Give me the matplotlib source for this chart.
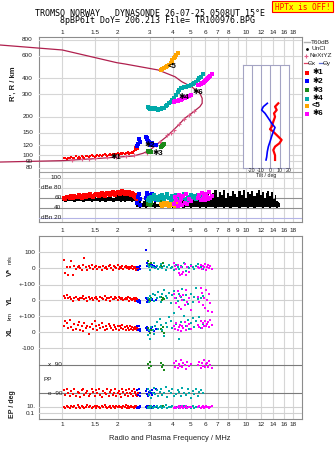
import matplotlib
matplotlib.use('Agg')
import matplotlib.pyplot as plt
import matplotlib.transforms as mtransforms
from matplotlib.lines import Line2D
from matplotlib.patches import Rectangle
from matplotlib.ticker import NullLocator

plt.rcParams['font.family'] = ['Liberation Sans', 'DejaVu Sans']

# ---------------- data ----------------
# echo group *1 (red): frequency MHz, virtual height km, amplitude dB, V* m/s, YL km, XL km, PP deg, EP deg
red_f = [1.02, 1.04, 1.06, 1.08, 1.10, 1.12, 1.14, 1.16, 1.18, 1.21,
         1.23, 1.25, 1.28, 1.30, 1.32, 1.35, 1.37, 1.40, 1.42, 1.45,
         1.47, 1.50, 1.53, 1.55, 1.58, 1.61, 1.64, 1.67, 1.70, 1.73,
         1.76, 1.79, 1.82, 1.85, 1.88, 1.91, 1.94, 1.97, 2.00, 2.03,
         2.06, 2.09, 2.12, 2.15, 2.18, 2.21, 2.24, 2.27, 2.30, 2.33,
         2.36, 2.39, 2.42, 2.45, 2.48, 2.50, 2.52, 2.54, 2.56, 2.58]
red_h = [95, 96, 94, 96, 95, 97, 95, 96, 98, 96,
         97, 95, 98, 97, 96, 98, 99, 97, 98, 100,
         98, 97, 99, 100, 98, 101, 99, 100, 102, 100,
         99, 101, 103, 100, 102, 101, 103, 102, 104, 101,
         103, 105, 102, 104, 103, 105, 104, 106, 103, 105,
         104, 106, 105, 108, 112, 116, 110, 114, 118, 111]
red_db = [60, 58, 62, 61, 59, 63, 60, 64, 62, 61,
          65, 63, 60, 64, 66, 62, 65, 63, 67, 64,
          62, 66, 68, 65, 63, 67, 69, 66, 64, 68,
          70, 67, 65, 69, 71, 68, 66, 70, 72, 69,
          67, 71, 73, 70, 68, 72, 70, 67, 71, 69,
          66, 70, 68, 64, 66, 62, 60, 63, 58, 61]
red_vs = [52, -30, 10, -42, 5, 48, -40, 12, -5, 8,
          15, 2, -8, 20, 62, 5, -10, 12, 0, 18,
          -6, 8, 14, -3, 10, 6, -12, 16, 4, 9,
          -4, 12, 20, 2, -8, 14, 6, 0, 18, -5,
          10, 3, 12, -2, 8, 15, 0, 6, -6, 10,
          4, 12, -3, 8, 2, 5, -8, 10, 0, 4]
red_yl = [22, 15, 28, 10, 18, 5, -5, 12, 20, 8,
          -2, 15, 10, 25, 5, 12, -8, 18, 6, 14,
          0, 10, 20, 8, -4, 16, 12, 6, 22, 2,
          10, 14, -6, 18, 8, 4, 16, 12, 0, 20,
          10, 6, 14, -2, 8, 12, 4, 16, -4, 10,
          6, 2, 8, 12, -6, 4, 10, 0, 6, 2]
red_xl = [40, 70, 55, 25, 75, 30, 10, 50, 20, 45,
          60, 15, 35, 5, 55, 25, 40, -10, 30, 50,
          20, 65, 35, 10, 45, 25, 55, 30, 15, 40,
          20, 50, 35, 25, 10, 45, 30, 20, 40, 15,
          35, 25, 45, 20, 30, 10, 40, 25, 15, 35,
          20, 30, 12, 25, 18, 30, 22, 15, 28, 20]
red_pp = [-70, -100, -60, -85, -110, -75, -95, -65, -105, -80,
          -90, -115, -70, -60, -100, -85, -75, -110, -95, -65,
          -80, -105, -70, -90, -60, -100, -115, -75, -85, -95,
          -65, -110, -80, -70, -100, -90, -60, -105, -85, -75,
          -95, -115, -65, -80, -100, -70, -90, -110, -60, -85,
          -95, -75, -105, -65, -90, -80, -100, -70, -110, -85]
red_ep = [10, 5, 20, 8, 3, 15, 6, 12, 4, 25,
          8, 5, 18, 10, 3, 7, 30, 6, 12, 4,
          9, 15, 5, 20, 8, 3, 12, 6, 25, 10,
          4, 8, 15, 5, 18, 7, 3, 12, 9, 20,
          6, 10, 4, 15, 8, 25, 5, 12, 3, 9,
          18, 6, 10, 4, 14, 8, 20, 5, 11, 7]

# echo group *2 (blue)
blue_f = [2.56, 2.58, 2.61, 2.63, 2.66, 2.84, 2.88, 2.90, 2.94, 2.96, 3.02, 3.06, 3.09, 3.15, 3.22]
blue_h = [118, 122, 133, 128, 127, 140, 136, 133, 130, 128, 120, 125, 124, 121, 120]
blue_db = [50, 62, 68, 46, 58, 60, 66, 69, 63, 57, 65, 68, 61, 58, 55]
blue_vs = [8, -10, 5, -5, 12, 110, 15, 30, 20, 10, 25, 5, 18, 12, 8]
blue_yl = [-5, -15, 2, -20, -8, 10, -10, 5, -5, -12, 8, -2, 4, -8, 0]
blue_xl = [35, 10, 40, 20, 5, 25, 10, 30, 15, 5, 20, 28, 12, 8, 18]
blue_pp = [-70, -100, -60, -110, -85, -75, -95, -60, -105, -80, -90, -70, -100, -85, -65]
blue_ep = [5, 10, 3, 20, 8, 6, 12, 4, 15, 8, 10, 5, 7, 12, 9]

# echo group *3 (green)
green_f = [2.92, 2.96, 3.00, 3.05, 3.43, 3.47, 3.52, 3.56]
green_h = [108, 107, 108, 107, 116, 118, 120, 123]
green_db = [48, 52, 45, 50, 47, 53, 49, 46]
green_vs = [45, 25, 15, 35, 20, 10, 30, 15]
green_yl = [15, 5, -8, 10, 20, 0, 12, 5]
green_xl = [25, 10, -5, 15, 20, 5, 28, -8]
green_pp = [95, 70, 110, 85, 100, 75, 90, 60]
green_ep = [10, 5, 20, 8, 12, 6, 15, 9]

# echo group *4 (teal)
teal_f = [2.92, 2.96, 3.00, 3.05, 3.10, 3.15, 3.20, 3.26, 3.32, 3.38,
          3.44, 3.50, 3.57, 3.64, 3.72, 3.80, 3.89, 3.97, 4.05, 4.14,
          4.23, 4.32, 4.41, 4.50, 4.60, 4.69, 4.80, 4.90, 5.00, 5.12,
          5.23, 5.33, 5.45, 5.55, 5.67, 5.79]
teal_h = [238, 234, 232, 236, 233, 230, 233, 229, 226, 228,
          231, 233, 236, 241, 247, 254, 262, 270, 279, 296,
          314, 324, 334, 338, 341, 343, 346, 350, 354, 362,
          370, 376, 388, 400, 412, 430]
teal_db = [56, 60, 54, 62, 58, 65, 57, 61, 55, 63,
           59, 66, 57, 62, 68, 60, 55, 64, 58, 66,
           61, 56, 63, 59, 67, 57, 62, 55, 65, 60,
           64, 58, 66, 61, 56, 63]
teal_vs = [20, 5, -10, 15, 8, 30, 0, 12, -5, 10,
           25, 3, 15, -8, 6, 18, 2, 10, -12, 22,
           8, -4, 14, 5, 30, -15, 10, 0, 18, 6,
           -6, 12, 25, 4, 10, -2]
teal_yl = [10, -15, 25, 5, 40, -5, 30, 15, 50, 20,
           -10, 35, 60, 25, 10, 45, -20, 30, 55, 15,
           -5, 40, 20, 65, 0, 30, -25, 10, 35, -15,
           20, 73, 5, -10, 15, 25]
teal_xl = [-20, 10, -40, 30, 15, -10, 40, 60, 20, 80,
           45, 10, -25, 55, 30, 90, 70, 25, 117, 50,
           15, -45, 60, 35, 100, 40, 75, 20, 55, 85,
           30, 65, 45, 95, 25, 50]
teal_pp = [-60, -100, -75, -120, -85, -55, -95, -70, -110, -80,
           -65, -100, -90, -50, -115, -75, -85, -60, -105, -95,
           -70, -80, -110, -55, -90, -100, -65, -85, -120, -75,
           -95, -60, -105, -80, -70, -90]
teal_ep = [3, 8, 5, 15, 4, 10, 6, 20, 3, 8,
           12, 5, 7, 30, 4, 9, 6, 15, 5, 8,
           10, 4, 12, 6, 20, 3, 7, 9, 5, 15,
           4, 8, 6, 11, 5, 7]

# echo group <5 (orange)
orange_f = [3.43, 3.50, 3.57, 3.65, 3.73, 3.81, 3.89, 3.93, 3.97, 4.03, 4.10, 4.16, 4.23]
orange_h = [464, 470, 478, 488, 499, 510, 523, 538, 555, 572, 589, 606, 626]
orange_db = [48, 44, 52, 46, 50, 43, 47, 51, 45, 49, 44, 50, 46]

# echo group *6 (magenta)
mag_f = [4.05, 4.10, 4.15, 4.23, 4.30, 4.36, 4.41, 4.48, 4.55, 4.62,
         4.70, 4.79, 4.88, 5.00,
         5.50, 5.57, 5.65, 5.73, 5.79, 5.87, 5.95, 6.03, 6.12, 6.20, 6.28, 6.38, 6.50]
mag_h = [262, 264, 265, 266, 268, 270, 271, 274, 278, 280,
         283, 287, 291, 296,
         354, 357, 361, 365, 369, 374, 380, 388, 395, 402, 411, 420, 432]
mag_db = [48, 62, 55, 44, 66, 52, 58, 45, 63, 50,
          68, 47, 57, 53,
          60, 66, 56, 70, 58, 64, 55, 68, 61, 57, 71, 59, 63]
mag_vs = [30, 15, -5, 20, -30, -40, 10, -35, -20, 25,
          -42, 5, -25, 15,
          10, 0, 20, -5, 15, 8, 25, -10, 5, 18, 0, 12, -6]
mag_yl = [40, 10, -20, 55, -40, 25, -55, 0, 30, -30,
          60, -10, 15, -60,
          20, -15, 73, 45, -30, 10, -50, 60, 0, -70, 35, -20, -73]
mag_xl = [40, 20, 55, 10, 30, 45, 5, 35, 25, 60,
          15, 40, 50, 20,
          45, 30, 65, 25, 55, 40, 70, 35, 50, 60, 30, 75, 45]
mag_pp = [100, 80, 115, 70, 95, 85, 120, 75, 105, 90,
          65, 110, 85, 95,
          90, 110, 70, 100, 85, 120, 75, 95, 105, 80, 115, 90, 70]
mag_ep = [5, 10, 3, 8, 15, 4, 6, 12, 5, 9,
          20, 4, 7, 10,
          6, 12, 4, 9, 15, 5, 8, 20, 6, 10, 4, 7, 12]

# unclassified / noise amplitude (black)
black_f = [1.00, 1.04, 1.08, 1.12, 1.16, 1.20, 1.25, 1.30, 1.35, 1.40, 1.45, 1.50,
           1.55, 1.60, 1.66, 1.72, 1.78, 1.84, 1.90, 1.96, 2.02,
           2.08, 2.14, 2.20, 2.26, 2.32, 2.38, 2.44, 2.50,
           2.55, 2.60, 2.65, 2.70, 2.78, 2.86, 2.94, 3.02,
           3.10, 3.20, 3.30, 3.40, 3.50, 3.62, 3.74, 3.86, 4.00,
           4.14, 4.28, 4.42, 4.56, 4.70, 4.85, 5.00,
           5.15, 5.30, 5.45, 5.60, 5.75, 5.90, 6.05, 6.20, 6.40, 6.60,
           6.80, 7.00, 7.20, 7.40, 7.60, 7.80, 8.00, 8.20, 8.45, 8.70,
           8.95, 9.20, 9.45, 9.70, 9.95, 10.2, 10.5, 10.8, 11.1, 11.4,
           11.7, 12.0, 12.3, 12.6, 12.9, 13.2, 13.5, 13.8, 14.1, 14.4,
           14.7, 15.0, 15.3]
black_hi = [58, 57, 59, 58, 60, 57, 59, 61, 58, 60, 59, 62,
            60, 63, 61, 59, 62, 64, 60, 63, 65,
            70, 74, 66, 72, 76, 68, 62, 58,
            55, 52, 58, 50, 54, 57, 52, 56,
            50, 54, 48, 52, 47, 55, 50, 46, 52,
            48, 53, 50, 56, 52, 58, 62,
            66, 58, 70, 62, 74, 60, 68, 72, 64, 70,
            76, 62, 72, 66, 75, 60, 70, 64, 74, 68,
            62, 73, 66, 75, 60, 71, 67, 74, 63, 70,
            76, 65, 72, 60, 69, 74, 64, 71, 58, 66,
            54, 52, 50]
black_lo = [53, 52, 54, 53, 52, 54, 53, 52, 53, 54, 52, 53,
            54, 52, 53, 52, 54, 53, 52, 53, 54,
            52, 53, 52, 53, 54, 52, 53, 52,
            42, 41, 40, 41, 42, 40, 41, 42,
            41, 40, 41, 42, 40, 41, 42, 41, 40,
            41, 42, 41, 40, 41, 42, 40,
            41, 42, 41, 40, 41, 42, 40, 41, 42, 41,
            40, 41, 42, 41, 40, 41, 42, 40, 41, 42,
            41, 40, 41, 42, 41, 40, 41, 42, 40, 41,
            42, 41, 40, 41, 42, 41, 40, 41, 42, 41,
            40, 41, 42]

# N(h) profile and NeXtYZ points
prof_f = [0.46, 1.0, 1.98, 2.19, 3.32, 4.10, 4.46, 5.05, 5.60, 5.76, 5.76, 5.60,
          5.05, 4.64, 4.19, 3.69, 3.32, 3.00, 2.75, 2.43, 1.60, 1.0, 0.46]
prof_h = [727, 665, 529, 517, 464, 411, 376, 343, 305, 279, 255, 240,
          213, 195, 167, 140, 124, 110, 103.7, 98.7, 94.7, 90.8, 88.6]
nexyz_f = [1.13, 1.28, 1.39, 1.51, 1.75, 1.95, 2.21, 2.45, 2.90, 3.25,
           3.40, 3.73, 3.89, 4.05, 4.32, 4.59, 4.89, 5.21]
nexyz_h = [91.9, 93.6, 94.1, 94.7, 96.5, 97.5, 98.7, 100, 105, 120,
           128, 143, 150, 159, 175, 192, 206, 221]

# tilt profiles (inset)
thx_h = [255, 240, 226, 213, 200, 183, 167, 160, 153, 144, 132, 124, 117, 110, 100, 92]
thx_deg = [8.6, 5.1, 6.9, 4.0, 5.1, 3.2, 1.5, -0.3, 3.2, 6.9, 12.2, 9.7, 5.1, 3.2, 5.1, 5.1]
thy_h = [255, 240, 226, 213, 195, 178, 165, 153, 141, 128, 117, 107, 97, 92]
thy_deg = [-3.2, -7.5, -9.3, -5.7, -2.1, 1.5, 5.1, 3.2, 1.5, -0.3, -2.1, -3.2, -3.9, -4.6]

# echo labels
lab_txt = ['\u27311', '\u27312', '\u27313', '\u27314', '<5', '\u27316']
lab_f = [1.95, 3.0, 3.29, 4.55, 3.97, 5.43]
lab_h = [96, 120, 103.7, 281, 492, 311]

freq_top = [1, 1.5, 2, 3, 4, 5, 6, 7, 8, 10, 12, 14, 16, 18]
freq_mid = [1, 1.5, 2, 3, 4, 5, 6, 7, 8, 9, 10, 12, 14, 16, 18]
grid_f = [1, 1.5, 2, 3, 4, 5, 6, 7, 8, 9, 10, 12, 14, 16, 18]
h_ticks = [800, 600, 400, 300, 200, 150, 120, 100, 90, 80]

RED, BLUE, GREEN, TEAL, ORANGE, MAG = '#ff0000', '#0000ff', '#1a8a1a', '#00a9a9', '#ffa500', '#ff00ff'
PROF = '#b0204e'
NEX = '#e0608a'

# ---------------- layout helpers (pixel based) ----------------
W, H = 335, 451
fig = plt.figure(figsize=(W / 100, H / 100), dpi=100)
X0, X1 = 39, 302
FMIN, FMAX = 0.747, 20.1
TXT = '#202020'


def fy(y):
    return 1 - y / H


def px_axes(x0, y0, x1, y1, z):
    ax = fig.add_axes([x0 / W, fy(y1), (x1 - x0) / W, (y1 - y0) / H])
    ax.set_zorder(z)
    return ax


def no_ticks(ax):
    for a in (ax.xaxis, ax.yaxis):
        a.set_major_locator(NullLocator())
        a.set_minor_locator(NullLocator())


def frame(y0, y1):
    ax = px_axes(X0, y0, X1, y1, 0)
    ax.set_xscale('log')
    ax.set_xlim(FMIN, FMAX)
    ax.set_ylim(0, 1)
    no_ticks(ax)
    for f in grid_f:
        ax.axvline(f, color='#d6d6d6', lw=0.8)
    for s in ax.spines.values():
        s.set_color('#8c8c8c')
        s.set_linewidth(0.8)
    return ax


def strip(y0, y1, ref_px, ref_val, ppu, log=False):
    # transparent overlay on the whole box; ref_val sits at row ref_px, ppu = pixels per unit (or decade)
    ax = px_axes(X0, y0, X1, y1, 2)
    ax.set_xscale('log')
    ax.set_xlim(FMIN, FMAX)
    if log:
        ax.set_yscale('log')
        ax.set_ylim(ref_val * 10 ** (-(y1 - ref_px) / ppu), ref_val * 10 ** ((ref_px - y0) / ppu))
    else:
        ax.set_ylim(ref_val - (y1 - ref_px) / ppu, ref_val + (ref_px - y0) / ppu)
    ax.axis('off')
    return ax


def ylabels(ax, vals, texts, x_px, ha='right', size=4.6):
    tr = mtransforms.blended_transform_factory(fig.transFigure, ax.transData)
    for v, t in zip(vals, texts):
        ax.text(x_px / W, v, t, transform=tr, ha=ha, va='center', fontsize=size, color=TXT)


def hlines(ax, vals, color):
    for v in vals:
        ax.axhline(v, color=color, lw=0.8, zorder=0)


def flabels(ax, y_px, vals):
    tr = mtransforms.blended_transform_factory(ax.transData, fig.transFigure)
    for f in vals:
        ax.text(f, fy(y_px), '%g' % f, transform=tr, ha='center', va='center', fontsize=4.6, color=TXT)


def dots(ax, x, y, c, s=3.2):
    ax.scatter(x, y, s=s, marker='s', color=c, linewidths=0, zorder=3)


# ---------------- top box: heights + amplitudes ----------------
fr1 = frame(37, 222)
fr1.axhline((222 - 172) / (222 - 37), color='#a0a0a0', lw=0.8)
flabels(fr1, 33, freq_top)
flabels(fr1, 230, freq_mid)

axh = strip(37, 222, 155.3, 100, 128, log=True)
hlines(axh, h_ticks, '#d6d6d6')
ylabels(axh, h_ticks, [str(v) for v in h_ticks], 33)
axh.plot(prof_f, prof_h, color=PROF, lw=0.9, clip_on=False, zorder=2)
axh.plot(nexyz_f, nexyz_h, ls='none', marker='+', ms=3, mew=0.8, color=NEX, zorder=2)
dots(axh, red_f, red_h, RED, 4)
dots(axh, blue_f, blue_h, BLUE, 5)
dots(axh, green_f, green_h, GREEN, 5)
dots(axh, teal_f, teal_h, TEAL, 9)
dots(axh, orange_f, orange_h, ORANGE, 9)
dots(axh, mag_f, mag_h, MAG, 9)
for t, f, h in zip(lab_txt, lab_f, lab_h):
    axh.text(f, h, t, ha='center', va='center', fontsize=5.5, fontweight='bold', color='black', zorder=4)

axa = strip(37, 222, 177.7, 100, 0.5)
hlines(axa, [100, 80], '#d6d6d6')
hlines(axa, [60, 40], '#909090')
hlines(axa, [20], '#b4b4e6')
ylabels(axa, [100, 80, 60, 40, 20], ['100', 'dBe 80', '60', '40', 'dBn 20'], 61.5)
axa.fill_between(black_f, black_lo, black_hi, step='mid', color='black', lw=0, zorder=2)
dots(axa, red_f, red_db, RED, 7)
dots(axa, blue_f, blue_db, BLUE, 7)
dots(axa, green_f, green_db, GREEN, 7)
dots(axa, orange_f, orange_db, ORANGE, 7)
dots(axa, teal_f, teal_db, TEAL, 7)
dots(axa, mag_f, mag_db, MAG, 7)

# tilt inset
axt = px_axes(243, 65, 288.5, 168, 5)
axt.set_xlim(-29.4, 19.6)
axt.set_yscale('log')
axt.set_ylim(79.6, 508)
no_ticks(axt)
for t in [-20, -10, 0, 10]:
    axt.axvline(t, color='#a4a4c4', lw=0.8)
for s in axt.spines.values():
    s.set_color('#a4a4c4')
    s.set_linewidth(0.8)
axt.plot(thx_deg, thx_h, color=RED, lw=1.6)
axt.plot(thy_deg, thy_h, color=BLUE, lw=1.2)
trt = mtransforms.blended_transform_factory(axt.transData, fig.transFigure)
for t in [-20, -10, 0, 10, 20]:
    axt.text(t, fy(170.8), str(t), transform=trt, ha='center', va='center', fontsize=3.8, color=TXT)
fig.text(266 / W, fy(175.5), 'Tilt / deg', ha='center', va='center', fontsize=3.8, color=TXT)

# ---------------- bottom box: echo parameters ----------------
fr2 = frame(236, 419)
flabels(fr2, 425, freq_top)

axv = strip(236, 419, 268.3, 0, 0.1625)
axyl = strip(236, 419, 300, 0, 0.1625)
axxl = strip(236, 419, 332, 0, 0.1625)
axpp = strip(236, 419, 365, 90, 28.3 / 180)
axep = strip(236, 419, 406.7, 10, 3.3, log=True)

hlines(axv, [100, 0, -100], '#d0d0d0')
hlines(axyl, [0, -100], '#d0d0d0')
hlines(axxl, [0, -100], '#d0d0d0')
hlines(axpp, [90, -90], '#7a7a7a')
hlines(axep, [10, 0.1], '#d0d0d0')
ylabels(axv, [100, 0, -100], ['100', '0', '+-100'], 35)
ylabels(axyl, [0, -100], ['0', '+-100'], 35)
ylabels(axxl, [0, -100], ['0', '-100'], 35)
ylabels(axpp, [90, -90], ['x  90', 'o -90'], 62)
ylabels(axpp, [0], ['PP'], 43, ha='left')
ylabels(axep, [10, 0.1], ['10.', '0.1'], 35)

for f, vs, yl, xl, pp, ep, c in [
        (red_f, red_vs, red_yl, red_xl, red_pp, red_ep, RED),
        (blue_f, blue_vs, blue_yl, blue_xl, blue_pp, blue_ep, BLUE),
        (green_f, green_vs, green_yl, green_xl, green_pp, green_ep, GREEN),
        (teal_f, teal_vs, teal_yl, teal_xl, teal_pp, teal_ep, TEAL),
        (mag_f, mag_vs, mag_yl, mag_xl, mag_pp, mag_ep, MAG)]:
    dots(axv, f, vs, c)
    dots(axyl, f, yl, c)
    dots(axxl, f, xl, c)
    dots(axpp, f, pp, c)
    dots(axep, f, ep, c)

# ---------------- texts round the boxes ----------------
fig.text(35 / W, fy(13), 'TROMSO NORWAY   DYNASONDE 26-07-25 0508UT 15\u00b0E', family='DejaVu Sans Mono',
         fontsize=6, ha='left', va='center', color='black')
fig.text(60 / W, fy(20.5), '8pBP6It DoY= 206.213 File= TR100976.BPG', family='DejaVu Sans Mono',
         fontsize=6, ha='left', va='center', color='black')
fig.patches.append(Rectangle((272 / W, fy(12)), 61 / W, 10.5 / H, transform=fig.transFigure,
                             facecolor='#ffff00', edgecolor='#ff0000', lw=0.8))
fig.text(302.5 / W, fy(7), 'HPTx is OFF!', family='DejaVu Sans Mono', fontsize=5.6,
         ha='center', va='center', color='#ff0000')

fig.text(13 / W, fy(84), "R', R / km", rotation=90, ha='center', va='center', fontsize=5.5,
         fontweight='bold', color=TXT)
fig.text(10 / W, fy(272), 'V*', rotation=90, ha='center', va='center', fontsize=5.5, fontweight='bold', color=TXT)
fig.text(10 / W, fy(260), 'm/s', rotation=90, ha='center', va='center', fontsize=4, color=TXT)
fig.text(10.5 / W, fy(300), 'YL', rotation=90, ha='center', va='center', fontsize=5.5, fontweight='bold', color=TXT)
fig.text(10.5 / W, fy(316.5), 'km', rotation=90, ha='center', va='center', fontsize=4.3, color=TXT)
fig.text(10 / W, fy(331), 'XL', rotation=90, ha='center', va='center', fontsize=5.5, fontweight='bold', color=TXT)
fig.text(13 / W, fy(404), 'EP / deg', rotation=90, ha='center', va='center', fontsize=5, fontweight='bold', color=TXT)
fig.text(170 / W, fy(439), 'Radio and Plasma Frequency / MHz', ha='center', va='center', fontsize=5.4, color=TXT)

# legend at the right
LX = 304
fig.add_artist(Line2D([LX / W, 310 / W], [fy(42), fy(42)], color='#b0b0b0', lw=1))
fig.text(311 / W, fy(42), 'T60dB', fontsize=4.6, va='center', color=TXT)
fig.add_artist(Line2D([307 / W], [fy(49)], marker='o', ms=1, color='black'))
fig.text(311 / W, fy(49), 'UnCl', fontsize=4.6, va='center', color=TXT)
fig.add_artist(Line2D([306 / W], [fy(55.7)], marker='+', ms=3.5, mew=0.8, color=NEX))
fig.text(310 / W, fy(55.7), 'NeXtYZ', fontsize=4.6, va='center', color=TXT)
fig.add_artist(Line2D([LX / W, 308 / W], [fy(63.3), fy(63.3)], color='#e04060', lw=0.9))
fig.text(308 / W, fy(63.3), '\u0398x', fontsize=4.6, va='center', color=TXT)
fig.add_artist(Line2D([319 / W, 323 / W], [fy(63.3), fy(63.3)], color='#6070d0', lw=0.9))
fig.text(323 / W, fy(63.3), '\u0398y', fontsize=4.6, va='center', color=TXT)
for c, t, y in zip([RED, BLUE, GREEN, TEAL, ORANGE, MAG], lab_txt, [72.7, 81.3, 90, 98.7, 105.7, 114]):
    fig.add_artist(Line2D([307 / W], [fy(y)], marker='s', ms=2.2, mew=0, color=c))
    fig.text(312 / W, fy(y), t, fontsize=5.5, fontweight='bold', va='center', color='black')

fig.savefig('out.png', dpi=100)
